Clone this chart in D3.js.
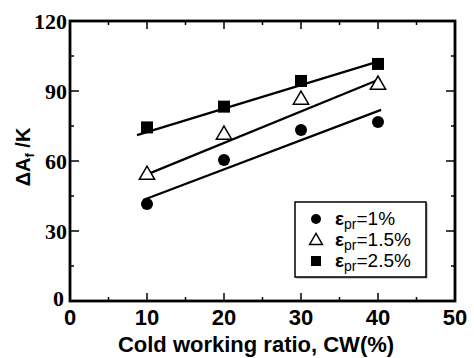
<!DOCTYPE html>
<html>
<head>
<meta charset="utf-8">
<script src="https://cdn.jsdelivr.net/npm/d3@7"></script>
<style>
  body { margin: 0; background: #fff; }
  svg { display: block; }
</style>
</head>
<body>
<div id="chart-area"></div>
<script>
// data
const cwValues = [10, 20, 30, 40]
const seriesNames = ['1%', '1.5%', '2.5%']
const eps1 = [41.6, 60.4, 73.3, 76.7]
const eps15 = [54.4, 71.6, 86.6, 93.0]
const eps25 = [74.4, 83.3, 94.3, 101.6]
// fitted lines, [x0, y0, x1, y1]
const fit1 = [9.5, 43.3, 40.4, 81.9]
const fit15 = [9.3, 53.3, 40.3, 95.1]
const fit25 = [8.7, 71.1, 40.3, 102.9]
const xTicks = [0, 10, 20, 30, 40, 50]
const yTicks = [0, 30, 60, 90, 120]

const series = [
  { name: seriesNames[0], values: eps1, fit: fit1, shape: 'circle' },
  { name: seriesNames[1], values: eps15, fit: fit15, shape: 'triangle' },
  { name: seriesNames[2], values: eps25, fit: fit25, shape: 'square' },
]

const W = 474, H = 358
const margin = { top: 21, right: 19, bottom: 57, left: 70 }
const width = W - margin.left - margin.right
const height = H - margin.top - margin.bottom

const $svg = d3.select('#chart-area').append('svg')
  .attr('width', W).attr('height', H)

const $scene = $svg.append('g')
  .attr('transform', `translate(${margin.left}, ${margin.top})`)

const x = d3.scaleLinear().domain([0, 50]).range([0, width])
const y = d3.scaleLinear().domain([0, 120]).range([height, 0])

/* ticks, all pointing inward */
const xMinor = d3.range(5, 50, 10)
const yMinor = d3.range(15, 120, 30)
const $ticks = $scene.append('g').attr('stroke', '#000').attr('stroke-width', 1.5)
xTicks.slice(1, -1).forEach(v => {
  $ticks.append('line').attr('x1', x(v)).attr('x2', x(v)).attr('y1', height).attr('y2', height - 8)
  $ticks.append('line').attr('x1', x(v)).attr('x2', x(v)).attr('y1', 0).attr('y2', 8)
})
xMinor.forEach(v => {
  $ticks.append('line').attr('x1', x(v)).attr('x2', x(v)).attr('y1', height).attr('y2', height - 4)
  $ticks.append('line').attr('x1', x(v)).attr('x2', x(v)).attr('y1', 0).attr('y2', 4)
})
yTicks.slice(1, -1).forEach(v => {
  $ticks.append('line').attr('y1', y(v)).attr('y2', y(v)).attr('x1', 0).attr('x2', 9)
  $ticks.append('line').attr('y1', y(v)).attr('y2', y(v)).attr('x1', width).attr('x2', width - 9)
})
yMinor.forEach(v => {
  $ticks.append('line').attr('y1', y(v)).attr('y2', y(v)).attr('x1', 0).attr('x2', 4)
  $ticks.append('line').attr('y1', y(v)).attr('y2', y(v)).attr('x1', width).attr('x2', width - 4)
})

/* frame */
$scene.append('rect')
  .attr('width', width).attr('height', height)
  .attr('fill', 'none').attr('stroke', '#000').attr('stroke-width', 2.8)

/* tick labels */
$scene.append('g').selectAll('text').data(yTicks).join('text')
  .attr('x', d => d === 0 ? -6 : -3).attr('y', d => d === 0 ? y(d) - 3 : y(d)).attr('dy', '0.35em')
  .attr('text-anchor', 'end')
  .attr('font-family', 'Liberation Serif, Times New Roman, serif')
  .attr('font-weight', 'bold').attr('font-size', 22)
  .text(d => d)

$scene.append('g').selectAll('text').data(xTicks).join('text')
  .attr('x', d => x(d)).attr('y', height + 24)
  .attr('text-anchor', 'middle')
  .attr('font-family', 'Liberation Sans, Arial, sans-serif')
  .attr('font-weight', 'bold').attr('font-size', 22)
  .text(d => d)

/* axis titles */
$svg.append('text')
  .attr('x', 256).attr('y', 352)
  .attr('text-anchor', 'middle')
  .attr('font-family', 'Liberation Sans, Arial, sans-serif')
  .attr('font-weight', 'bold').attr('font-size', 22)
  .text('Cold working ratio, CW(%)')

const $yLabel = $svg.append('text')
  .attr('transform', 'translate(30, 157) rotate(-90)')
  .attr('text-anchor', 'middle')
  .attr('font-family', 'Liberation Sans, Arial, sans-serif')
  .attr('font-weight', 'bold').attr('font-size', 20)
$yLabel.append('tspan').text('ΔA')
$yLabel.append('tspan').attr('font-size', 13).attr('dy', 4).text('f')
$yLabel.append('tspan').attr('dy', -4).text(' /K')

/* fit lines */
$scene.append('g').selectAll('line').data(series).join('line')
  .attr('x1', d => x(d.fit[0])).attr('y1', d => y(d.fit[1]))
  .attr('x2', d => x(d.fit[2])).attr('y2', d => y(d.fit[3]))
  .attr('stroke', '#000').attr('stroke-width', 2.2)

/* markers */
function drawMarker(sel, shape, size) {
  if (shape === 'circle') {
    sel.append('circle').attr('r', size * 0.5).attr('fill', '#000')
  } else if (shape === 'square') {
    sel.append('rect').attr('x', -size / 2).attr('y', -size / 2)
      .attr('width', size).attr('height', size).attr('fill', '#000')
  } else {
    const s = size * 1.1
    sel.append('path')
      .attr('d', `M0,${-s * 0.6}L${s * 0.58},${s * 0.4}L${-s * 0.58},${s * 0.4}Z`)
      .attr('fill', '#fff').attr('stroke', '#000').attr('stroke-width', 1.5)
  }
}

series.forEach(s => {
  s.values.forEach((v, i) => {
    const $g = $scene.append('g')
      .attr('transform', `translate(${x(cwValues[i])}, ${y(v)})`)
    drawMarker($g, s.shape, 12)
  })
})

/* legend */
const $legend = $svg.append('g').attr('transform', 'translate(295, 202)')
$legend.append('rect')
  .attr('x', 1.5).attr('y', 1.5).attr('width', 131).attr('height', 75).attr('fill', '#999')
$legend.append('rect')
  .attr('width', 131).attr('height', 75)
  .attr('fill', '#fff').attr('stroke', '#000').attr('stroke-width', 1.5)

series.forEach((s, i) => {
  const ly = 17 + i * 21
  const $row = $legend.append('g').attr('transform', `translate(21, ${ly})`)
  drawMarker($row, s.shape, 10)
  const $t = $legend.append('text')
    .attr('x', 40).attr('y', ly + 6)
    .attr('font-family', 'Liberation Sans, Arial, sans-serif')
    .attr('font-size', 19)
  $t.append('tspan').attr('font-weight', 'bold').text('ε')
  $t.append('tspan').attr('font-size', 14).attr('dy', 4).text('pr')
  $t.append('tspan').attr('dy', -4).text('=' + s.name)
})
</script>
</body>
</html>
